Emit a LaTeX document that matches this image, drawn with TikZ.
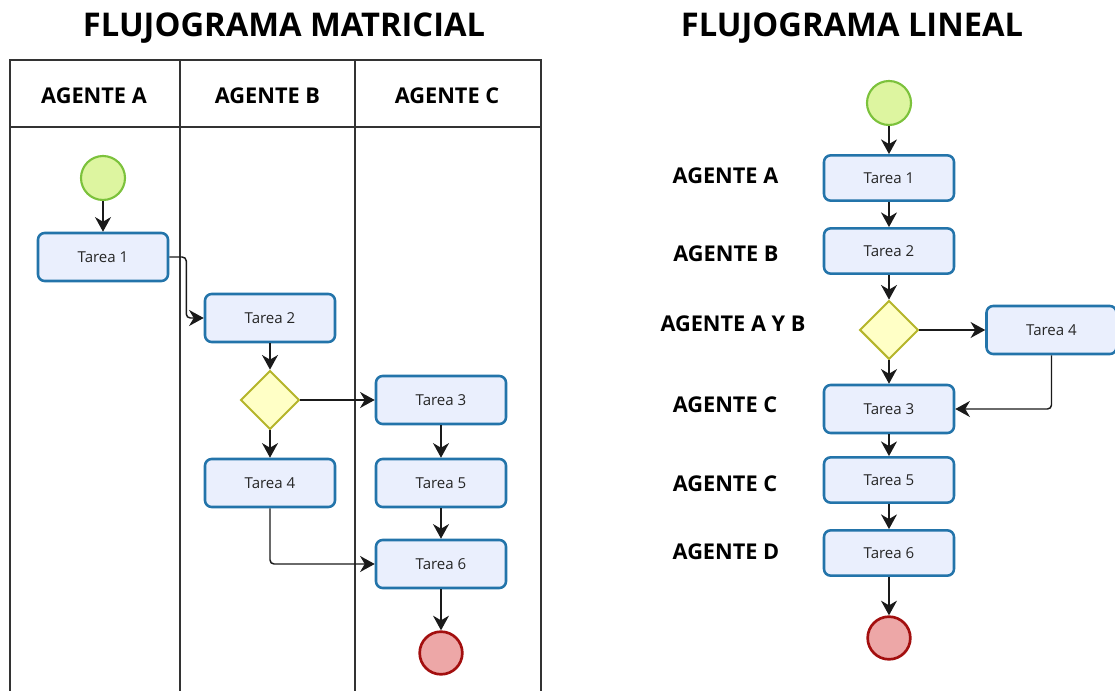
\documentclass[tikz,border=0pt]{standalone}
\usepackage{fontspec}
\setmainfont{Open Sans}
\usetikzlibrary{shapes.geometric,arrows.meta,calc}

\definecolor{taskfill}{HTML}{EAEFFD}
\definecolor{taskline}{HTML}{2374AA}
\definecolor{startfill}{HTML}{DDF5A0}
\definecolor{startline}{HTML}{7CC23C}
\definecolor{endfill}{HTML}{EDA7A7}
\definecolor{endline}{HTML}{A30F0F}
\definecolor{gatefill}{HTML}{FFFFC6}
\definecolor{gateline}{HTML}{B5B52A}
\definecolor{laneline}{HTML}{333333}
\definecolor{flowline}{HTML}{1A1A1A}

\tikzset{
  task/.style={rectangle, rounded corners=5pt, draw=taskline, line width=1.9pt,
    fill=taskfill, minimum width=97.5pt, minimum height=36pt, inner sep=0pt,
    font=\fontsize{11.3}{13}\selectfont, text=black!85},
  taskr/.style={task, minimum height=34pt},
  startev/.style={circle, draw=startline, fill=startfill, line width=1.6pt,
    minimum size=33pt, inner sep=0pt},
  endev/.style={circle, draw=endline, fill=endfill, line width=2pt,
    minimum size=32pt, inner sep=0pt},
  gate/.style={diamond, draw=gateline, fill=gatefill, line width=1.5pt,
    minimum width=44pt, minimum height=44pt, inner sep=0pt},
  flow/.style={draw=flowline, line width=1.1pt, rounded corners=3pt,
    -{Stealth[length=11pt,width=12pt,inset=3.5pt]}},
  lane/.style={draw=laneline, line width=1.1pt},
  title/.style={font=\fontsize{24.5}{28}\selectfont\bfseries, anchor=base},
  agent/.style={font=\fontsize{16.3}{19}\selectfont\bfseries, anchor=base},
}

\begin{document}
\begin{tikzpicture}[x=0.75pt, y=-0.75pt]
\useasboundingbox (0,0) rectangle (1115,691);

% titles
\node[title] (tm) at (284,37) {FLUJOGRAMA MATRICIAL};
\node[title] (tl) at (852,37) {FLUJOGRAMA LINEAL};

% swimlane grid
\draw[lane] (10,691) -- (10,60) -- (541,60) -- (541,691);
\draw[lane] (10,127) -- (541,127);
\draw[lane] (180,60) -- (180,691);
\draw[lane] (355,60) -- (355,691);

\node[agent] (ha) at (94,104) {AGENTE A};
\node[agent] (hb) at (267.5,104) {AGENTE B};
\node[agent] (hc) at (447,104) {AGENTE C};

% swimlane flow
\node[startev] (s) at (103,178) {};
\node[task] (t1) at (103,257) {Tarea 1};
\node[task] (t2) at (270,318) {Tarea 2};
\node[gate] (g) at (270,400) {};
\node[task] (t3) at (441,400) {Tarea 3};
\node[task] (t4) at (270,483) {Tarea 4};
\node[task] (t5) at (441,483) {Tarea 5};
\node[task] (t6) at (441,564) {Tarea 6};
\node[endev] (e) at (441,653) {};

\draw[flow] (s) -- (t1);
\draw[flow] (t1.east) -- ++(17,0) |- (t2.west);
\draw[flow] (t2) -- (g);
\draw[flow] (g.east) -- (t3.west);
\draw[flow] (g.south) -- (t4.north);
\draw[flow] (t3) -- (t5);
\draw[flow] (t5) -- (t6);
\draw[flow] (t4.south) |- (t6.west);
\draw[flow] (t6) -- (e);

% linear flow
\node[startev] (rs) at (889,103) {};
\node[taskr] (r1) at (889,178) {Tarea 1};
\node[taskr] (r2) at (889,251) {Tarea 2};
\node[gate] (rg) at (889,330) {};
\node[task] (r4) at (1051.5,330) {Tarea 4};
\node[task] (r3) at (889,409) {Tarea 3};
\node[taskr] (r5) at (889,480) {Tarea 5};
\node[taskr] (r6) at (889,553) {Tarea 6};
\node[endev] (re) at (889,638) {};

\draw[flow] (rs) -- (r1);
\draw[flow] (r1) -- (r2);
\draw[flow] (r2) -- (rg);
\draw[flow] (rg.east) -- (r4.west);
\draw[flow] (rg.south) -- (r3.north);
\draw[flow] (r4.south) |- (r3.east);
\draw[flow] (r3) -- (r5);
\draw[flow] (r5) -- (r6);
\draw[flow] (r6) -- (re);

% agent labels for the linear flow
\node[agent] (la) at (725.5,184) {AGENTE A};
\node[agent] (lb) at (726,262) {AGENTE B};
\node[agent] (lab) at (733,332) {AGENTE A Y B};
\node[agent] (lc1) at (725,413) {AGENTE C};
\node[agent] (lc2) at (725,492) {AGENTE C};
\node[agent] (ld) at (726,560) {AGENTE D};
\end{tikzpicture}
\end{document}
